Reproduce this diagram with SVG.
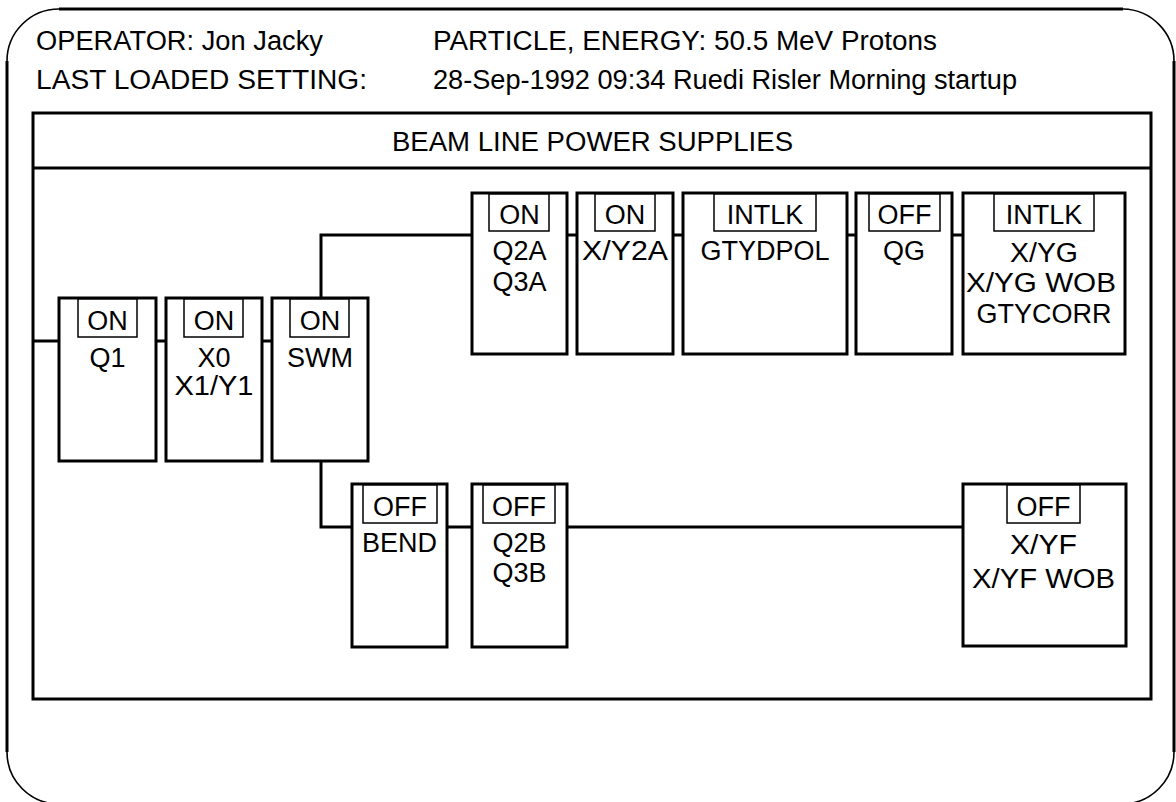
<svg xmlns="http://www.w3.org/2000/svg" width="1176" height="802" viewBox="0 0 1176 802">
<style>
text{font-family:"Liberation Sans",Arial,sans-serif;font-size:27px;fill:#000}
.c{text-anchor:middle}
.nb{fill:#fff;stroke:#000;stroke-width:3}
.lb{fill:#fff;stroke:#000;stroke-width:1.5}
.cn{fill:none;stroke:#000;stroke-width:3}
.fr{fill:none;stroke:#000;stroke-width:3}
.arc{fill:none;stroke:#000;stroke-width:1.6}
</style>
<rect width="1176" height="802" fill="#fff"/>
<g id="frame">
<path class="fr" d="M59,9 H1123 M7,61 V752 M1174,61 V752"/>
<path class="arc" d="M7,61 A52,52 0 0 1 59,9 M1123,9 A52,52 0 0 1 1174,61 M7,752 A52,52 0 0 0 59,804 M1174,752 A52,52 0 0 1 1122,804"/>
</g>
<g id="header">
<text x="36" y="50" textLength="287" lengthAdjust="spacingAndGlyphs">OPERATOR: Jon Jacky</text>
<text x="36" y="89" textLength="331" lengthAdjust="spacingAndGlyphs">LAST LOADED SETTING:</text>
<text x="433" y="50" textLength="504" lengthAdjust="spacingAndGlyphs">PARTICLE, ENERGY: 50.5 MeV Protons</text>
<text x="433" y="89" textLength="584" lengthAdjust="spacingAndGlyphs">28-Sep-1992 09:34 Ruedi Risler Morning startup</text>
</g>
<g id="panel">
<rect x="33" y="113" width="1118" height="586" fill="none" stroke="#000" stroke-width="3"/>
<line x1="33" y1="168" x2="1151" y2="168" stroke="#000" stroke-width="3"/>
<text x="392" y="151" textLength="401" lengthAdjust="spacingAndGlyphs">BEAM LINE POWER SUPPLIES</text>
</g>
<g id="connectors">
<path class="cn" d="M33,341 H59 M156,341 H166 M262,341 H272 M321,298 V235 H472 M321,461 V527 H352 M567,235 H577 M673,235 H683 M847,235 H856 M952,235 H963 M447,527 H472 M567,527 H963"/>
</g>
<g id="node-q1">
<rect class="nb" x="59" y="298" width="97" height="163"/>
<rect class="lb" x="78" y="299" width="59" height="38"/>
<text class="c" x="107.5" y="330">ON</text>
<text class="c" x="107.5" y="367">Q1</text>
</g>
<g id="node-x0">
<rect class="nb" x="166" y="298" width="96" height="163"/>
<rect class="lb" x="184" y="299" width="59" height="38"/>
<text class="c" x="214" y="330">ON</text>
<text class="c" x="214" y="367">X0</text>
<text class="c" x="214" y="395" textLength="79" lengthAdjust="spacingAndGlyphs">X1/Y1</text>
</g>
<g id="node-swm">
<rect class="nb" x="272" y="298" width="96" height="163"/>
<rect class="lb" x="290" y="299" width="59" height="38"/>
<text class="c" x="320" y="330">ON</text>
<text class="c" x="320" y="367">SWM</text>
</g>
<g id="node-q2a">
<rect class="nb" x="472" y="193" width="95" height="161"/>
<rect class="lb" x="489" y="194" width="60" height="37"/>
<text class="c" x="519.5" y="224">ON</text>
<text class="c" x="519.5" y="260">Q2A</text>
<text class="c" x="519.5" y="291">Q3A</text>
</g>
<g id="node-xy2a">
<rect class="nb" x="577" y="193" width="96" height="161"/>
<rect class="lb" x="595" y="194" width="60" height="37"/>
<text class="c" x="625" y="224">ON</text>
<text class="c" x="625" y="260" textLength="86" lengthAdjust="spacingAndGlyphs">X/Y2A</text>
</g>
<g id="node-gtydpol">
<rect class="nb" x="683" y="193" width="164" height="161"/>
<rect class="lb" x="714" y="194" width="102" height="37"/>
<text class="c" x="765" y="224">INTLK</text>
<text class="c" x="765" y="260">GTYDPOL</text>
</g>
<g id="node-qg">
<rect class="nb" x="856" y="193" width="96" height="161"/>
<rect class="lb" x="869" y="194" width="71" height="37"/>
<text class="c" x="904.5" y="224">OFF</text>
<text class="c" x="904" y="260">QG</text>
</g>
<g id="node-xyg">
<rect class="nb" x="963" y="193" width="162" height="161"/>
<rect class="lb" x="994" y="194" width="100" height="37"/>
<text class="c" x="1044" y="224">INTLK</text>
<text class="c" x="1044" y="262" textLength="68" lengthAdjust="spacingAndGlyphs">X/YG</text>
<text class="c" x="1041" y="292" textLength="150" lengthAdjust="spacingAndGlyphs">X/YG WOB</text>
<text class="c" x="1044" y="323">GTYCORR</text>
</g>
<g id="node-bend">
<rect class="nb" x="352" y="484" width="95" height="163"/>
<rect class="lb" x="363" y="485" width="74" height="38"/>
<text class="c" x="400" y="516">OFF</text>
<text class="c" x="399.5" y="552">BEND</text>
</g>
<g id="node-q2b">
<rect class="nb" x="472" y="484" width="95" height="163"/>
<rect class="lb" x="483" y="485" width="72" height="38"/>
<text class="c" x="519" y="516">OFF</text>
<text class="c" x="519.5" y="552">Q2B</text>
<text class="c" x="519.5" y="582">Q3B</text>
</g>
<g id="node-xyf">
<rect class="nb" x="963" y="484" width="163" height="162"/>
<rect class="lb" x="1007" y="485" width="73" height="38"/>
<text class="c" x="1043.5" y="516">OFF</text>
<text class="c" x="1043.5" y="554" textLength="67" lengthAdjust="spacingAndGlyphs">X/YF</text>
<text class="c" x="1043.5" y="588" textLength="143" lengthAdjust="spacingAndGlyphs">X/YF WOB</text>
</g>
</svg>
